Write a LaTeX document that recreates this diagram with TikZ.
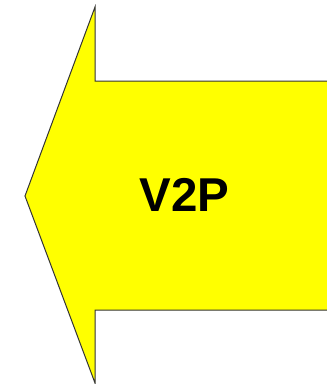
\documentclass[tikz,border=0pt]{standalone}
\usepackage{fontspec}
\setmainfont{Liberation Sans}
\definecolor{arrowyellow}{RGB}{255,255,0}
\begin{document}
\begin{tikzpicture}[x=1pt,y=-1pt,
  arrowshape/.style={fill=arrowyellow,draw=black!80,line width=1pt,line join=miter},
  labeltext/.style={font=\fontsize{47.5}{50}\selectfont\bfseries,text=black,inner sep=0pt}]
\useasboundingbox (0,0) rectangle (327,384);
\clip (0,0) rectangle (327,384);
\draw[arrowshape] (340,81) -- (95,81) -- (95,7) -- (25,196) -- (95,383) -- (95,310) -- (340,310);
\node[labeltext] (lbl) at (184.5,195) {V2P};
\end{tikzpicture}
\end{document}
